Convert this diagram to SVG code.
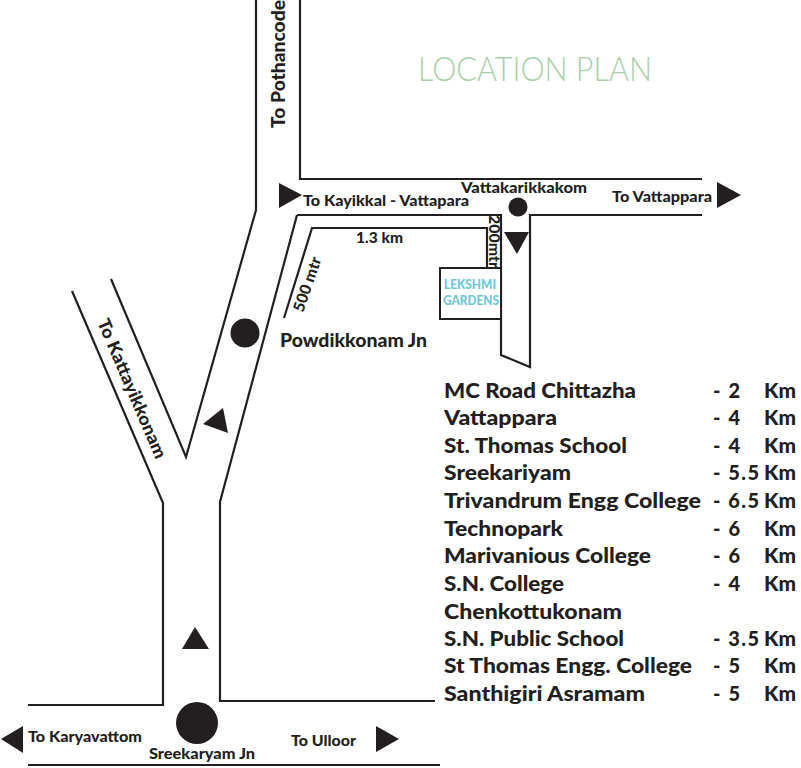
<svg xmlns="http://www.w3.org/2000/svg" width="801" height="768" viewBox="0 0 801 768">
<style>
text{font-family:"Lato","Open Sans","Liberation Sans",sans-serif;font-weight:900;fill:#231f20;font-size:15.5px}
.r{fill:none;stroke:#231f20;stroke-width:2.2}
.f{fill:#231f20}
text.t{font-size:20px}
text.b{fill:#72c6d9;font-size:13px}
</style>
<rect width="801" height="768" fill="#fff"/>
<g id="connectors">
<path class="r" d="M256 0V210L186 457L111 279"/>
<path class="r" d="M72 291L163 503V705H28"/>
<path class="r" d="M300 0V179H702"/>
<path class="r" d="M297 215H501V355L530 367V215H702"/>
<path class="r" d="M297 215L220 502V701H435"/>
<path class="r" d="M284 318L312 228H487V268"/>
<path class="r" d="M28 765H440"/>
</g>
<g id="powdikkonam"><circle class="f" cx="245" cy="333" r="14.5"/><text x="280" y="347" style="font-size:18.5px" textLength="147" lengthAdjust="spacingAndGlyphs">Powdikkonam Jn</text></g>
<g id="sreekaryam"><circle class="f" cx="197" cy="723" r="21"/><text x="149" y="759" textLength="106" lengthAdjust="spacingAndGlyphs">Sreekaryam Jn</text></g>
<g id="vattakarikkakom"><circle class="f" cx="518" cy="207" r="9.5"/><text x="461" y="193" textLength="126" lengthAdjust="spacingAndGlyphs">Vattakarikkakom</text></g>
<g id="lekshmi"><rect x="440" y="268" width="61" height="51" fill="#fff" stroke="#231f20" stroke-width="2"/><text class="b" x="444" y="289" textLength="52" lengthAdjust="spacingAndGlyphs">LEKSHMI</text><text class="b" x="443" y="305" textLength="56" lengthAdjust="spacingAndGlyphs">GARDENS</text></g>
<g id="arrows">
<path class="f" d="M279 183L302 195L279 208Z"/>
<path class="f" d="M504 232H529L517 254Z"/>
<path class="f" d="M717 182L741 195L717 208Z"/>
<path class="f" d="M203 424L223 408L228 433Z"/>
<path class="f" d="M195 627L209 649H182Z"/>
<path class="f" d="M1 739L23 726V753Z"/>
<path class="f" d="M376 726L399 739L376 752Z"/>
</g>
<g id="labels">
<text x="418" y="81" style="font-family:'Lato','Liberation Sans',sans-serif;font-weight:300;font-size:33px;fill:#a9d0a9" textLength="234" lengthAdjust="spacingAndGlyphs">LOCATION PLAN</text>
<text transform="translate(285 128) rotate(-90)" style="font-size:18px" textLength="128" lengthAdjust="spacingAndGlyphs">To Pothancode</text>
<text x="303" y="206" textLength="166" lengthAdjust="spacingAndGlyphs">To Kayikkal - Vattapara</text>
<text x="612" y="202" textLength="100" lengthAdjust="spacingAndGlyphs">To Vattappara</text>
<text x="356" y="243" textLength="47" lengthAdjust="spacingAndGlyphs">1.3 km</text>
<text transform="translate(489 215) rotate(90)" textLength="53" lengthAdjust="spacingAndGlyphs">200mtr</text>
<text transform="translate(303 313) rotate(-71)" textLength="57" lengthAdjust="spacingAndGlyphs">500 mtr</text>
<text transform="translate(97 322) rotate(66.9)" style="font-size:17.5px" textLength="150" lengthAdjust="spacingAndGlyphs">To Kattayikkonam</text>
<text x="28" y="742" textLength="114" lengthAdjust="spacingAndGlyphs">To Karyavattom</text>
<text x="291" y="746" textLength="65" lengthAdjust="spacingAndGlyphs">To Ulloor</text>
</g>
<g id="distances">
<text class="t" x="444" y="398" textLength="192" lengthAdjust="spacingAndGlyphs">MC Road Chittazha</text><text class="t" x="713" y="398" textLength="27" lengthAdjust="spacing">- 2</text><text class="t" x="764" y="398" textLength="32" lengthAdjust="spacingAndGlyphs">Km</text>
<text class="t" x="444" y="425" textLength="113" lengthAdjust="spacingAndGlyphs">Vattappara</text><text class="t" x="713" y="425" textLength="27" lengthAdjust="spacing">- 4</text><text class="t" x="764" y="425" textLength="32" lengthAdjust="spacingAndGlyphs">Km</text>
<text class="t" x="444" y="453" textLength="183" lengthAdjust="spacingAndGlyphs">St. Thomas School</text><text class="t" x="713" y="453" textLength="27" lengthAdjust="spacing">- 4</text><text class="t" x="764" y="453" textLength="32" lengthAdjust="spacingAndGlyphs">Km</text>
<text class="t" x="444" y="480" textLength="127" lengthAdjust="spacingAndGlyphs">Sreekariyam</text><text class="t" x="713" y="480" textLength="46" lengthAdjust="spacing">- 5.5</text><text class="t" x="764" y="480" textLength="32" lengthAdjust="spacingAndGlyphs">Km</text>
<text class="t" x="444" y="508" textLength="257" lengthAdjust="spacingAndGlyphs">Trivandrum Engg College</text><text class="t" x="713" y="508" textLength="46" lengthAdjust="spacing">- 6.5</text><text class="t" x="764" y="508" textLength="32" lengthAdjust="spacingAndGlyphs">Km</text>
<text class="t" x="444" y="536" textLength="119" lengthAdjust="spacingAndGlyphs">Technopark</text><text class="t" x="713" y="536" textLength="27" lengthAdjust="spacing">- 6</text><text class="t" x="764" y="536" textLength="32" lengthAdjust="spacingAndGlyphs">Km</text>
<text class="t" x="444" y="563" textLength="207" lengthAdjust="spacingAndGlyphs">Marivanious College</text><text class="t" x="713" y="563" textLength="27" lengthAdjust="spacing">- 6</text><text class="t" x="764" y="563" textLength="32" lengthAdjust="spacingAndGlyphs">Km</text>
<text class="t" x="444" y="591" textLength="120" lengthAdjust="spacingAndGlyphs">S.N. College</text><text class="t" x="713" y="591" textLength="27" lengthAdjust="spacing">- 4</text><text class="t" x="764" y="591" textLength="32" lengthAdjust="spacingAndGlyphs">Km</text>
<text class="t" x="444" y="619" textLength="178" lengthAdjust="spacingAndGlyphs">Chenkottukonam</text>
<text class="t" x="444" y="646" textLength="180" lengthAdjust="spacingAndGlyphs">S.N. Public School</text><text class="t" x="713" y="646" textLength="46" lengthAdjust="spacing">- 3.5</text><text class="t" x="764" y="646" textLength="32" lengthAdjust="spacingAndGlyphs">Km</text>
<text class="t" x="444" y="673" textLength="248" lengthAdjust="spacingAndGlyphs">St Thomas Engg. College</text><text class="t" x="713" y="673" textLength="27" lengthAdjust="spacing">- 5</text><text class="t" x="764" y="673" textLength="32" lengthAdjust="spacingAndGlyphs">Km</text>
<text class="t" x="444" y="701" textLength="201" lengthAdjust="spacingAndGlyphs">Santhigiri Asramam</text><text class="t" x="713" y="701" textLength="27" lengthAdjust="spacing">- 5</text><text class="t" x="764" y="701" textLength="32" lengthAdjust="spacingAndGlyphs">Km</text>
</g>
</svg>
